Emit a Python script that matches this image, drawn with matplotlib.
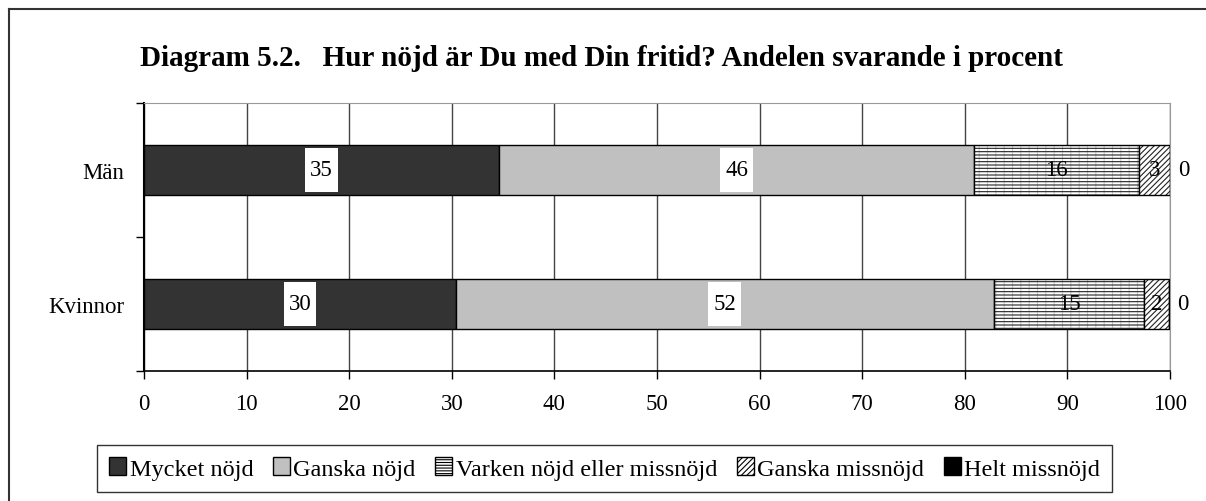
import matplotlib
matplotlib.use("Agg")
import matplotlib.pyplot as plt
from matplotlib.patches import Patch
import numpy as np

# Data
groups = ["Män", "Kvinnor"]
categories = ["Mycket nöjd", "Ganska nöjd", "Varken nöjd eller missnöjd",
              "Ganska missnöjd", "Helt missnöjd"]
man_vals = [34.6, 46.3, 16.1, 3.0, 0.0]
kvinnor_vals = [30.4, 52.4, 14.7, 2.4, 0.0]
title = "Diagram 5.2.   Hur nöjd är Du med Din fritid? Andelen svarande i procent"

plt.rcParams["font.family"] = ["Liberation Serif", "DejaVu Serif"]
plt.rcParams["hatch.linewidth"] = 0.8

fs = 16.5
fig = plt.figure(figsize=(12.06, 5.02), dpi=100)
ax = fig.add_axes([144 / 1206, 1 - 372 / 502, 1026 / 1206, 268 / 502])

data = np.array([man_vals, kvinnor_vals])
ypos = np.array([1, 0])
h = 0.38
left = np.zeros(2)
for j, cat in enumerate(categories):
    w = data[:, j]
    if j == 0:
        ax.barh(ypos, w, h, left=left, color="#333333", edgecolor="black", lw=1, zorder=3)
    elif j == 1:
        ax.barh(ypos, w, h, left=left, color="#c0c0c0", edgecolor="black", lw=1, zorder=3)
    elif j == 2:
        ax.barh(ypos, w, h, left=left, color="white", edgecolor="#cccccc", hatch="||", lw=0, zorder=3)
        ax.barh(ypos, w, h, left=left, color="none", edgecolor="#222222", hatch="-----", lw=0, zorder=3)
        ax.barh(ypos, w, h, left=left, color="none", edgecolor="black", lw=1, zorder=3)
    elif j == 3:
        ax.barh(ypos, w, h, left=left, color="white", edgecolor="#222222", hatch="//////", lw=0, zorder=3)
        ax.barh(ypos, w, h, left=left, color="none", edgecolor="black", lw=1, zorder=3)
    else:
        ax.barh(ypos, w, h, left=left, color="black", edgecolor="black", lw=1, zorder=3)
    for k in range(2):
        c = left[k] + w[k] / 2
        lab = f"{w[k]:.0f}"
        if j < 2:
            ax.barh(ypos[k], 3.2, h * 0.88, left=c - 1.6, color="white", lw=0, zorder=4)
            ax.text(c, ypos[k], lab, ha="center", va="center", fontsize=fs, zorder=5)
        elif j < 4:
            ax.text(c, ypos[k], lab, ha="center", va="center", fontsize=fs, zorder=5)
        else:
            ax.annotate(lab, (left[k] + w[k], ypos[k]), xytext=(6, 0), textcoords="offset points",
                        ha="left", va="center", fontsize=fs, zorder=5, annotation_clip=False)
    left += w

ax.set_xlim(0, 100)
ax.set_ylim(-0.5, 1.5)
ax.set_xticks(range(0, 101, 10))
ax.set_yticks(ypos)
ax.set_yticklabels(groups)
ax.set_yticks([-0.5, 0.5, 1.5], minor=True)
ax.tick_params(axis="y", which="major", length=0, pad=14, labelsize=fs)
ax.tick_params(axis="y", which="minor", length=6, width=1)
ax.tick_params(axis="x", length=6, width=1, pad=10, labelsize=fs, direction="out")
ax.grid(axis="x", color="#444444", lw=1, zorder=1)
ax.spines["top"].set_color("#999999")
ax.spines["right"].set_color("#999999")
ax.spines["left"].set_linewidth(1.5)
ax.spines["bottom"].set_linewidth(1.2)
ax.set_axisbelow(True)

fig.text(601 / 1206, 1 - 59 / 502, title, ha="center", va="center",
         fontsize=21, fontweight="bold")

handles = [
    Patch(facecolor="#333333", edgecolor="black"),
    Patch(facecolor="#c0c0c0", edgecolor="black"),
    Patch(facecolor="white", edgecolor="black", hatch="------"),
    Patch(facecolor="white", edgecolor="black", hatch="//////"),
    Patch(facecolor="black", edgecolor="black"),
]
leg = fig.legend(handles, categories, loc="center", ncol=5,
                 bbox_to_anchor=(604.5 / 1206, 1 - 469.5 / 502),
                 fontsize=17.5, frameon=True, fancybox=False, edgecolor="black",
                 handlelength=0.7, handleheight=0.7, handletextpad=0.15,
                 columnspacing=0.8, borderpad=0.5)
leg.get_frame().set_linewidth(1)

# outer border (only top and left visible)
fig.add_artist(plt.Line2D([9 / 1206, 9 / 1206], [0, 1 - 10 / 502], color="#333333", lw=1.5))
fig.add_artist(plt.Line2D([9 / 1206, 1], [1 - 10 / 502, 1 - 10 / 502], color="#333333", lw=1.5))

fig.savefig("out.png", dpi=100)
